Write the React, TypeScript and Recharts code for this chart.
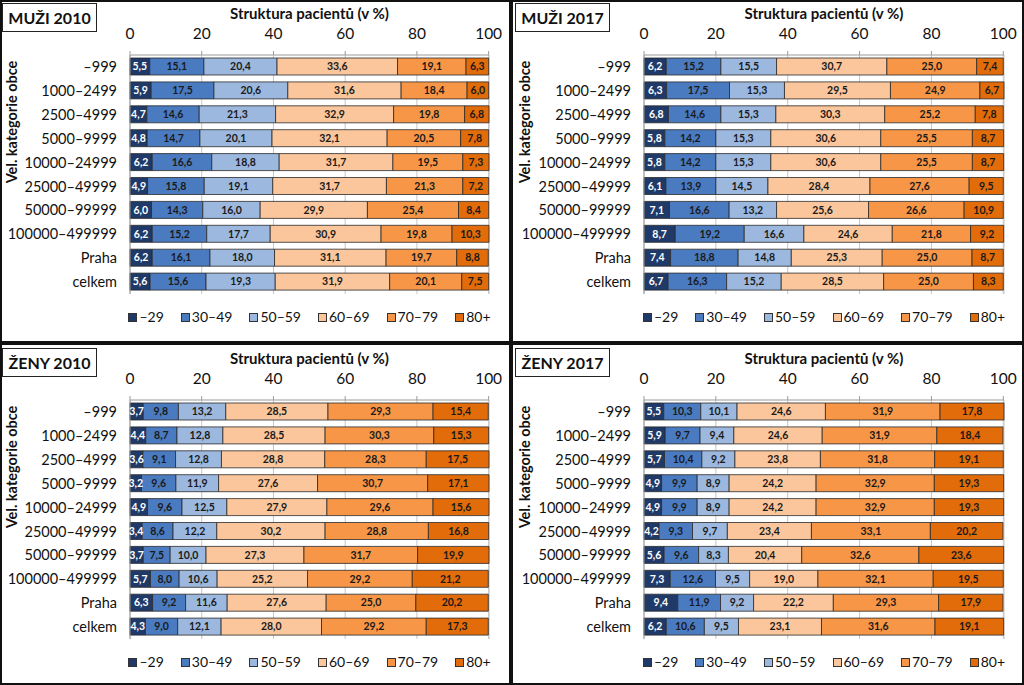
import { Bar, BarChart, CartesianGrid, LabelList, Legend, XAxis, YAxis } from "recharts";

const categories = [
  "–999", "1000–2499", "2500–4999", "5000–9999", "10000–24999",
  "25000–49999", "50000–99999", "100000–499999", "Praha", "celkem",
];
const ageGroups = ["–29", "30–49", "50–59", "60–69", "70–79", "80+"];
const xTicks = [0, 20, 40, 60, 80, 100];

// one row per category, values per age group (in %)
const muzi2010 = [
  [5.5, 15.1, 20.4, 33.6, 19.1, 6.3],
  [5.9, 17.5, 20.6, 31.6, 18.4, 6.0],
  [4.7, 14.6, 21.3, 32.9, 19.8, 6.8],
  [4.8, 14.7, 20.1, 32.1, 20.5, 7.8],
  [6.2, 16.6, 18.8, 31.7, 19.5, 7.3],
  [4.9, 15.8, 19.1, 31.7, 21.3, 7.2],
  [6.0, 14.3, 16.0, 29.9, 25.4, 8.4],
  [6.2, 15.2, 17.7, 30.9, 19.8, 10.3],
  [6.2, 16.1, 18.0, 31.1, 19.7, 8.8],
  [5.6, 15.6, 19.3, 31.9, 20.1, 7.5],
];
const muzi2017 = [
  [6.2, 15.2, 15.5, 30.7, 25.0, 7.4],
  [6.3, 17.5, 15.3, 29.5, 24.9, 6.7],
  [6.8, 14.6, 15.3, 30.3, 25.2, 7.8],
  [5.8, 14.2, 15.3, 30.6, 25.5, 8.7],
  [5.8, 14.2, 15.3, 30.6, 25.5, 8.7],
  [6.1, 13.9, 14.5, 28.4, 27.6, 9.5],
  [7.1, 16.6, 13.2, 25.6, 26.6, 10.9],
  [8.7, 19.2, 16.6, 24.6, 21.8, 9.2],
  [7.4, 18.8, 14.8, 25.3, 25.0, 8.7],
  [6.7, 16.3, 15.2, 28.5, 25.0, 8.3],
];
const zeny2010 = [
  [3.7, 9.8, 13.2, 28.5, 29.3, 15.4],
  [4.4, 8.7, 12.8, 28.5, 30.3, 15.3],
  [3.6, 9.1, 12.8, 28.8, 28.3, 17.5],
  [3.2, 9.6, 11.9, 27.6, 30.7, 17.1],
  [4.9, 9.6, 12.5, 27.9, 29.6, 15.6],
  [3.4, 8.6, 12.2, 30.2, 28.8, 16.8],
  [3.7, 7.5, 10.0, 27.3, 31.7, 19.9],
  [5.7, 8.0, 10.6, 25.2, 29.2, 21.2],
  [6.3, 9.2, 11.6, 27.6, 25.0, 20.2],
  [4.3, 9.0, 12.1, 28.0, 29.2, 17.3],
];
const zeny2017 = [
  [5.5, 10.3, 10.1, 24.6, 31.9, 17.8],
  [5.9, 9.7, 9.4, 24.6, 31.9, 18.4],
  [5.7, 10.4, 9.2, 23.8, 31.8, 19.1],
  [4.9, 9.9, 8.9, 24.2, 32.9, 19.3],
  [4.9, 9.9, 8.9, 24.2, 32.9, 19.3],
  [4.2, 9.3, 9.7, 23.4, 33.1, 20.2],
  [5.6, 9.6, 8.3, 20.4, 32.6, 23.6],
  [7.3, 12.6, 9.5, 19.0, 32.1, 19.5],
  [9.4, 11.9, 9.2, 22.2, 29.3, 17.9],
  [6.2, 10.6, 9.5, 23.1, 31.6, 19.1],
];

const colors = ["#1f3a68", "#4a7bc0", "#9cb8de", "#fbc69b", "#f79646", "#e26b0a"];
const font = "Lato, 'Open Sans', sans-serif";
const boundaryTicks = [0, 1, 2, 3, 4, 5, 6, 7, 8, 9, 10];

const fmt = (v: any) => Number(v).toFixed(1).replace(".", ",");

const renderLegend = (props: any) => {
  const items = [...(props.payload || [])].sort(
    (a: any, b: any) => ageGroups.indexOf(a.value) - ageGroups.indexOf(b.value)
  );
  return (
    <div style={{ display: "flex", justifyContent: "center", gap: 17, paddingTop: 14, fontSize: 14, color: "#111", fontFamily: font, whiteSpace: "nowrap" }}>
      {items.map((p: any) => (
        <span key={p.value} style={{ display: "flex", alignItems: "center", lineHeight: "18px" }}>
          <span style={{ width: 7, height: 7, background: p.color, border: "1px solid #333", marginRight: 2 }} />
          {p.value}
        </span>
      ))}
    </div>
  );
};

function Panel({ title, rows, left, top, axisW, rightM }: any) {
  const data = categories.map((cat, i) => {
    const row: any = { cat };
    ageGroups.forEach((_, k) => (row["s" + k] = rows[i][k]));
    return row;
  });
  const chartW = 505;
  const plotL = axisW;
  const plotW = chartW - axisW - rightM;
  return (
    <div style={{ position: "absolute", left, top, width: chartW, height: 340, fontFamily: font }}>
      <div style={{ position: "absolute", left: 2, top: 3, width: 93, height: 27, border: "1.5px solid #222", background: "#fff", display: "flex", alignItems: "center", justifyContent: "center", fontWeight: 700, fontSize: 16, color: "#111", zIndex: 2 }}>
        {title}
      </div>
      <div style={{ position: "absolute", left: plotL, width: plotW, top: 4, textAlign: "center", fontWeight: 700, fontSize: 15, color: "#111", zIndex: 2 }}>
        Struktura pacientů (v %)
      </div>
      <div style={{ position: "absolute", left: 12 - 70, top: 122 - 10, width: 140, height: 20, transform: "rotate(-90deg)", textAlign: "center", fontWeight: 700, fontSize: 14.5, lineHeight: "20px", color: "#111", zIndex: 2 }}>
        Vel. kategorie obce
      </div>
      <BarChart width={chartW} height={340} data={data} layout="vertical" barCategoryGap={3} margin={{ top: 25, right: rightM, left: 0, bottom: 14 }}>
        <CartesianGrid horizontal={false} stroke="#c6c6c6" yAxisId="cat" />
        <XAxis type="number" orientation="top" domain={[0, 100]} ticks={xTicks} height={30} tickSize={4} tickMargin={12}
          axisLine={{ stroke: "#9a9a9a" }} tickLine={{ stroke: "#9a9a9a" }} tick={{ fill: "#111", fontSize: 15.5 }} />
        <YAxis yAxisId="cat" type="category" dataKey="cat" width={axisW} tickSize={4} tickMargin={9} tickLine={false}
          axisLine={{ stroke: "#9a9a9a" }} tick={{ fill: "#111", fontSize: 14.5 }} interval={0} />
        <YAxis yAxisId="grid" type="number" domain={[0, 10]} ticks={boundaryTicks} width={0} tick={false} tickSize={4}
          axisLine={false} tickLine={{ stroke: "#9a9a9a" }} />
        <Legend content={renderLegend} verticalAlign="bottom" wrapperStyle={{ left: plotL, width: plotW }} />
        {ageGroups.map((g, k) => (
          <Bar key={g} dataKey={"s" + k} name={g} stackId="a" yAxisId="cat" fill={colors[k]} stroke="#2a2a2a" strokeWidth={0.8} barSize={17} isAnimationActive={false}>
            <LabelList dataKey={"s" + k} position="center" formatter={fmt} fill={k === 0 ? "#ffffff" : "#1a1a1a"} fontSize={10.5} fontWeight="bold" />
          </Bar>
        ))}
      </BarChart>
    </div>
  );
}

export default function App() {
  return (
    <div style={{ position: "absolute", left: 0, top: 0, width: 1024, height: 685, background: "#111", overflow: "hidden" }}>
      <div style={{ position: "absolute", left: 2, top: 2, width: 507, height: 339, background: "#fff" }} />
      <div style={{ position: "absolute", left: 513, top: 2, width: 509, height: 339, background: "#fff" }} />
      <div style={{ position: "absolute", left: 2, top: 345, width: 507, height: 338, background: "#fff" }} />
      <div style={{ position: "absolute", left: 513, top: 345, width: 509, height: 338, background: "#fff" }} />
      <Panel title="MUŽI 2010" rows={muzi2010} left={0} top={0} axisW={130} rightM={16} />
      <Panel title="MUŽI 2017" rows={muzi2017} left={513} top={0} axisW={131} rightM={14} />
      <Panel title="ŽENY 2010" rows={zeny2010} left={0} top={345} axisW={130} rightM={16} />
      <Panel title="ŽENY 2017" rows={zeny2017} left={513} top={345} axisW={131} rightM={14} />
    </div>
  );
}
